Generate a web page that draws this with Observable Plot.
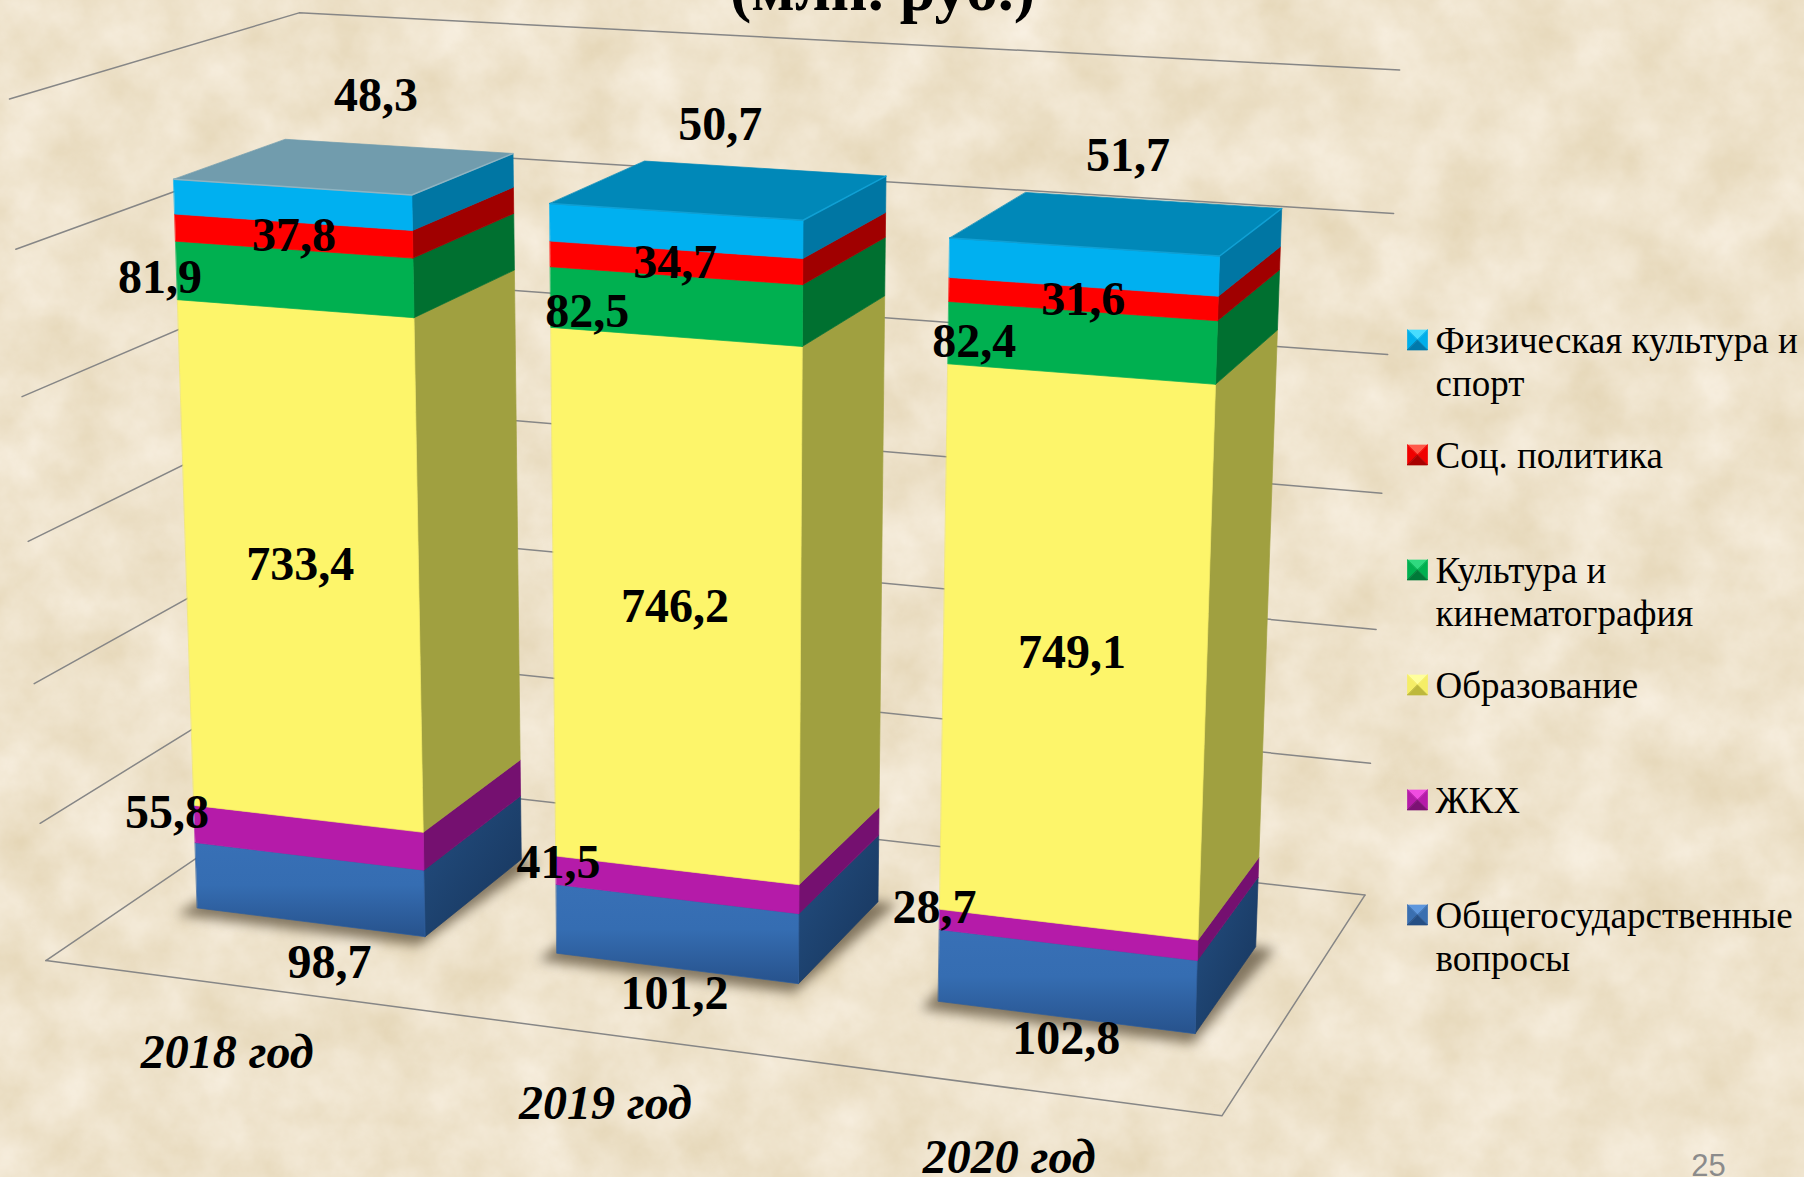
<!DOCTYPE html>
<html lang="ru"><head><meta charset="utf-8">
<script src="https://cdn.jsdelivr.net/npm/d3@7"></script>
<script src="https://cdn.jsdelivr.net/npm/@observablehq/plot@0.6"></script>
<style>html,body{margin:0;padding:0;background:#efe2c9;overflow:hidden}svg{display:block}</style>
</head><body><div id="chart"></div>
<script>
const years=["2018 год","2019 год","2020 год"];
const generalAffairs=[98.7,101.2,102.8];
const housing=[55.8,41.5,28.7];
const education=[733.4,746.2,749.1];
const culture=[81.9,82.5,82.4];
const socialPolicy=[37.8,34.7,31.6];
const sport=[48.3,50.7,51.7];
const seriesValues=[generalAffairs,housing,education,culture,socialPolicy,sport];
const gridTicks=[0,200,400,600,800,1000,1200];
const legendNames=["Общегосударственные\nвопросы","ЖКХ","Образование","Культура и\nкинематография","Соц. политика","Физическая культура и\nспорт"];

// 3D view of the chart box: X 0..3 (categories), Y 0..1200 (value), Z 0..1 (depth)
const camera=[1.06700,-0.03689,0.31477,0.04541,0.05569,-0.86665,-0.08005,0.96008,-0.08923,-0.05235,0.13523];
const halfWidth=0.32,inset=0.30;
function project(X0,Y0,Z){const P=camera,X=X0/3,Y=Y0/1200,d=P[8]*X+P[9]*Y+P[10]*Z+1;
 return [1000*(P[0]*X+P[1]*Y+P[2]*Z+P[3])/d,1000*(P[4]*X+P[5]*Y+P[6]*Z+P[7])/d];}

const faceFront=["url(#blueFront)","#B51BA9","#FDF56A","#00B050","#FF0000","#00B0F0"];
const faceSide=["url(#blueSide)","#751070","#A0A040","#007030","#A00000","#0076A3"];
const faceEdge=["#2e5f9f","#B51BA9","#F2EA62","#00B050","#FF0000","#00B0F0"];
const faceTop=["#719CAD","#0088B8","#0088B8"];
const topEdge=["#8FB4C2","#10A0D4","#10A0D4"];
const legendTones=[["#5E97DD","#3A6FB0","#254F85"],["#F04CE0","#B51BA9","#7C1174"],["#FFFF9C","#F5EE66","#BDB83C"],["#2FD97F","#00B050","#007A38"],["#FF5A4A","#F00000","#A80000"],["#47DCFF","#00AEEA","#0079AC"]];

// label displacement from the centre of each segment's front face, per series then per year
const labelShift=[[[20,73],[-2,60],[0,57]],[[-141,-25],[-118,-22],[-133,-27]],[[-1,-3],[-1,-1],[-2,-1]],[[-134,-2],[-88,5],[-107,-1]],[[1,0],[0,0],[1,1]],[[84,-109],[45,-106],[45,-111]]];
const yearShift=[[0,68],[-1,69],[-1,70]];
const fmt=v=>v.toFixed(1).replace(".",",");
const poly=(pts,fill,stroke=fill,extra={})=>Plot.line(pts,{x:d=>d[0],y:d=>d[1],fill,stroke,strokeWidth:.7,curve:"linear-closed",...extra});

const marks=[];
marks.push(()=>{const s=d3.create("svg:g");
 s.html(`<defs>
 <filter id="paper" x="0" y="0" width="100%" height="100%" color-interpolation-filters="sRGB"><feTurbulence type="fractalNoise" baseFrequency="0.016" numOctaves="7" seed="7"/><feColorMatrix values="0.09 0 0 0 0.890  0.12 0 0 0 0.830  0.20 0 0 0 0.700  0 0 0 0 1"/></filter>
 <linearGradient id="blueFront" x1="0" y1="0" x2="0" y2="1"><stop offset="0" stop-color="#3870B6"/><stop offset=".45" stop-color="#356DB2"/><stop offset="1" stop-color="#27528C"/></linearGradient>
 <linearGradient id="blueSide" x1="0" y1="0" x2="1" y2="1"><stop offset="0" stop-color="#234F82"/><stop offset="1" stop-color="#17345A"/></linearGradient></defs>
 <rect width="1804" height="1177" filter="url(#paper)"/>`);return s.node();});
for(const t of gridTicks) marks.push(Plot.line([project(0,t,0),project(0,t,1),project(3,t,1)],{x:d=>d[0],y:d=>d[1],stroke:"#868686",strokeWidth:1.5}));
marks.push(Plot.line([project(0,0,0),project(3,0,0),project(3,0,1)],{x:d=>d[0],y:d=>d[1],stroke:"#868686",strokeWidth:1.5}));

const labels=[];
years.forEach((yr,i)=>{const x0=i+.5-halfWidth,x1=i+.5+halfWidth,z0=inset,z1=1-inset;
 marks.push(poly([project(x0-.025,0,z0-.04),project(x1+.01,0,z0-.04),project(x1+.05,0,z1),project(x0,0,z1)],"#3b2d18","none",{fillOpacity:.6,imageFilter:"blur(6px)"}));
 let base=0;
 seriesValues.forEach((s,k)=>{const top=base+s[i];
  marks.push(poly([project(x1,base,z0),project(x1,base,z1),project(x1,top,z1),project(x1,top,z0)],faceSide[k],k==0?"#1c3e68":faceSide[k]));
  marks.push(poly([project(x0,base,z0),project(x1,base,z0),project(x1,top,z0),project(x0,top,z0)],faceFront[k],faceEdge[k]));
  const a=project(i+.5,(base+top)/2,z0),sh=labelShift[k][i];
  labels.push({text:fmt(s[i]),x:a[0]+sh[0],y:a[1]+sh[1]});
  base=top;});
 marks.push(poly([project(x0,base,z0),project(x1,base,z0),project(x1,base,z1),project(x0,base,z1)],faceTop[i]));
 marks.push(Plot.line([project(x0,base,z0),project(x1,base,z0),project(x1,base,z1)],{x:d=>d[0],y:d=>d[1],stroke:topEdge[i],strokeWidth:1.5}));
});
const serif={fontFamily:"Liberation Serif",fill:"#000",lineAnchor:"middle"};
marks.push(Plot.text(labels,{x:"x",y:"y",text:"text",fontWeight:"bold",fontSize:48,...serif}));
marks.push(Plot.text(years.map((t,i)=>{const a=project(i+.5,0,0);return {t,x:a[0]+yearShift[i][0],y:a[1]+yearShift[i][1]};}),{x:"x",y:"y",text:"t",fontWeight:"bold",fontStyle:"italic",fontSize:48,...serif}));
marks.push(Plot.text(["(млн. руб.)"],{x:()=>882,y:()=>-10.5,text:d=>d,fontWeight:"bold",fontSize:64,...serif}));

// legend, top row is the last series
const rowY=k=>339.5+115*(seriesValues.length-1-k);
const sw=10,swX=1417;
legendNames.forEach((name,k)=>{const c=rowY(k),t=legendTones[k],L=swX-sw,R=swX+sw,T=c-sw,B=c+sw,C=[swX,c];
 marks.push(poly([[L,T],[R,T],C],t[0]));
 marks.push(poly([[L,T],[L,B],C],t[1]));
 marks.push(poly([[R,T],[R,B],C],t[1]));
 marks.push(poly([[L,B],[R,B],C],t[2]));
});
const legendLines=legendNames.flatMap((name,k)=>name.split("\n").map((line,j)=>({line,x:1435,y:rowY(k)+1.2+43*j})));
marks.push(Plot.text(legendLines,{x:"x",y:"y",text:"line",textAnchor:"start",fontSize:37,...serif}));
marks.push(Plot.text(["25"],{x:()=>1708,y:()=>1166,text:d=>d,fontFamily:"Liberation Sans",fontSize:31,fill:"#8B8B8B",lineAnchor:"middle"}));

document.getElementById("chart").append(Plot.plot({width:1804,height:1177,margin:0,style:{background:"transparent"},x:{domain:[0,1804],range:[0,1804],axis:null},y:{domain:[0,1177],range:[0,1177],axis:null},marks}));
</script></body></html>
